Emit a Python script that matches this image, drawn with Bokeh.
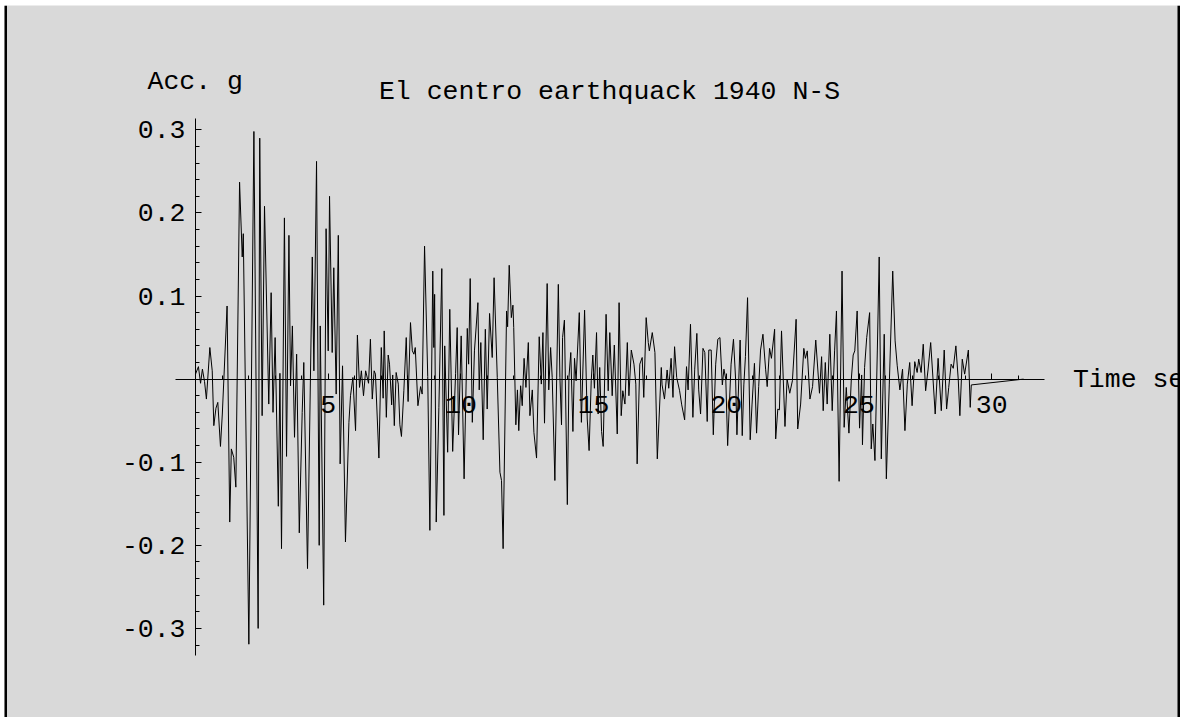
from bokeh.plotting import figure
from bokeh.models import LinearAxis, FixedTicker, PrintfTickFormatter, Range1d, Label, Span
from bokeh.embed import file_html
from bokeh.resources import INLINE

# El Centro 1940 N-S record
time_s = [
    0.00, 0.11, 0.19, 0.26, 0.34, 0.41, 0.54, 0.63, 0.69, 0.77, 0.84, 0.94, 1.01, 1.19, 1.29, 1.35,
    1.44, 1.52, 1.66, 1.76, 1.80, 2.01, 2.20, 2.36, 2.42, 2.51, 2.60, 2.76, 2.85, 2.92, 3.00, 3.12,
    3.18, 3.24, 3.35, 3.43, 3.52, 3.58, 3.65, 3.73, 3.81, 3.91, 4.02, 4.08, 4.22, 4.40, 4.46, 4.56,
    4.66, 4.70, 4.83, 4.92, 5.00, 5.05, 5.15, 5.21, 5.30, 5.38, 5.45, 5.54, 5.65, 5.78, 5.84, 5.93,
    6.03, 6.10, 6.18, 6.25, 6.33, 6.41, 6.52, 6.59, 6.66, 6.73, 6.78, 6.91,
    7.00, 7.07, 7.11, 7.19, 7.26, 7.31, 7.39, 7.43, 7.49, 7.56, 7.64, 7.70, 7.76, 7.85, 7.94, 8.01,
    8.10, 8.17, 8.23, 8.28, 8.38, 8.48, 8.54, 8.63, 8.75, 8.83, 8.94, 8.98, 9.01, 9.07, 9.17, 9.28,
    9.36, 9.39, 9.50, 9.58, 9.69, 9.80, 9.86, 9.91, 10.01, 10.12, 10.24, 10.29, 10.35, 10.43, 10.51,
    10.64, 10.69, 10.75, 10.84, 10.92, 10.99, 11.08, 11.18, 11.25, 11.37, 11.47, 11.53, 11.59, 11.72,
    11.76, 11.82, 11.90, 11.96, 11.99, 12.07, 12.13, 12.18, 12.25, 12.31, 12.38, 12.45, 12.54, 12.60,
    12.69, 12.75, 12.85, 12.95, 13.03, 13.09, 13.15, 13.25, 13.31, 13.38, 13.44, 13.54, 13.67, 13.73,
    13.79, 13.83, 13.90, 14.01, 14.07, 14.14, 14.22, 14.28, 14.34, 14.46, 14.54, 14.66, 14.76, 14.83,
    14.91, 14.97, 15.03, 15.11, 15.17, 15.23, 15.30, 15.36, 15.47, 15.55, 15.61, 15.70, 15.78, 15.89,
    15.96, 16.04, 16.10, 16.18, 16.27, 16.33, 16.42, 16.52, 16.59, 16.64, 16.74, 16.83, 16.89, 16.98,
    17.06, 17.10, 17.21, 17.31, 17.40, 17.55,
    17.58, 17.67, 17.77, 17.83, 17.92, 17.99, 18.05, 18.13, 18.24, 18.32, 18.43, 18.50, 18.56, 18.65,
    18.74, 18.81, 18.89, 18.96, 19.03, 19.12, 19.19, 19.28, 19.34, 19.43, 19.51, 19.60, 19.68, 19.76,
    19.85, 19.91, 19.98, 20.05, 20.18, 20.27, 20.35, 20.40, 20.52, 20.60, 20.66, 20.72, 20.80, 20.90,
    20.97, 21.06, 21.14, 21.22, 21.29, 21.38, 21.48, 21.54, 21.63, 21.70, 21.82, 21.86, 21.94, 22.00,
    22.08, 22.21, 22.29, 22.39, 22.49, 22.63, 22.69, 22.80, 22.92, 22.98, 23.05, 23.15, 23.25, 23.37,
    23.51, 23.59, 23.65, 23.73, 23.80, 23.90, 23.99, 24.08, 24.15, 24.25, 24.36, 24.44, 24.52, 24.62,
    24.71, 24.78, 24.84, 24.93, 25.02, 25.10, 25.13, 25.21, 25.29, 25.40, 25.46, 25.52, 25.60, 25.69,
    25.76, 25.84, 25.95, 26.03, 26.14, 26.27, 26.36, 26.44, 26.54, 26.64, 26.73, 26.82, 26.91, 27.00,
    27.10, 27.19, 27.25, 27.34, 27.42, 27.51, 27.60, 27.70, 27.79, 27.87, 27.98, 28.10, 28.21, 28.30,
    28.38, 28.47, 28.55, 28.65, 28.74, 28.80, 28.89, 28.98, 29.12, 29.19, 29.23, 31.20,
]
accel_g = [
    0.006, 0.015, -0.005, 0.012, -0.003, -0.024, 0.038, 0.010, -0.056, -0.035, -0.028, -0.081, -0.042, 0.088, -0.172, -0.084,
    -0.094, -0.130, 0.237, 0.147, 0.175, -0.319, 0.298, -0.300, 0.290, -0.044, 0.208, -0.030, 0.104, -0.040, 0.050, -0.153,
    0.007, -0.204, 0.194, -0.093, 0.173, -0.008, 0.064, -0.070, 0.030, -0.185, -0.040, 0.020, -0.228, 0.147, 0.010, 0.262,
    -0.200, 0.064, -0.272, 0.181, 0.034, 0.220, 0.032, 0.134, -0.018, 0.173, -0.102, 0.016, -0.196, -0.052, -0.020, 0.002,
    -0.062, 0.053, -0.010, 0.010, -0.020, 0.010, -0.005, 0.048, -0.024, 0.010, 0.006, -0.095,
    0.038, -0.023, 0.058, -0.046, 0.029, 0.018, -0.031, 0.005, -0.056, 0.008, -0.006, -0.055, -0.069, -0.014, 0.050, -0.027,
    0.068, 0.034, 0.030, 0.038, -0.032, -0.009, -0.018, 0.160, 0.003, -0.182, 0.130, 0.038, 0.102, -0.172, -0.034, 0.133,
    -0.164, 0.040, -0.088, 0.084, -0.087, 0.007, 0.062, -0.067, 0.052, -0.120, 0.061, 0.018, 0.121, -0.052, 0.034,
    0.092, -0.013, 0.044, -0.073, 0.060, -0.036, 0.079, 0.026, 0.122, 0.002, -0.112, -0.122, -0.204, 0.082,
    0.063, 0.137, 0.074, 0.089, 0.062, -0.055, -0.013, -0.062, -0.008, -0.032, 0.025, -0.010, 0.044, -0.044,
    -0.013, -0.064, -0.095, 0.051, -0.006, 0.056, -0.053, 0.115, -0.013, 0.038, 0.002, -0.122, 0.114, 0.002,
    -0.055, 0.050, 0.071, -0.151, 0.002, 0.032, -0.063, 0.025, -0.002, 0.080, -0.052, 0.083, -0.048, -0.086,
    -0.002, 0.029, -0.011, 0.056, -0.042, 0.014, -0.063, -0.081, 0.078, -0.014, 0.056, -0.020, 0.041, -0.066,
    0.092, -0.044, -0.014, -0.030, 0.044, -0.020, 0.035, 0.018, -0.006, -0.102, 0.018, 0.026, -0.022, 0.074,
    0.044, 0.034, 0.056, 0.032, -0.096, 0.014,
    -0.007, -0.024, 0.011, -0.011, 0.025, -0.022, 0.039, 0.002, -0.014, -0.031, -0.049, 0.015, -0.013, 0.066,
    -0.046, 0.012, 0.055, -0.013, -0.042, 0.037, 0.032, -0.051, 0.035, 0.035, -0.067, 0.018, 0.048, 0.050,
    -0.007, 0.012, 0.000, -0.080, 0.018, 0.048, 0.000, -0.067, 0.047, -0.068, -0.007, 0.027, 0.098, -0.073,
    -0.030, 0.019, -0.065, -0.009, 0.035, 0.054, 0.012, -0.009, 0.037, 0.025, 0.060, -0.072, -0.036, -0.037,
    0.058, -0.057, 0.000, -0.017, -0.002, 0.072, -0.060, -0.030, 0.037, 0.025, 0.034, -0.024, -0.009, 0.047,
    -0.017, 0.027, -0.038, 0.020, -0.030, 0.054, -0.038, 0.034, 0.082, -0.123, 0.130, -0.058, -0.010, -0.065,
    0.000, 0.029, 0.034, 0.082, -0.059, 0.005, -0.079, 0.014, 0.050, 0.080, -0.084, -0.054, -0.098, 0.035,
    0.147, -0.096, 0.054, -0.120, -0.007, 0.130, 0.046, 0.016, -0.013, 0.012, -0.062, -0.006, 0.020, -0.032,
    0.021, 0.008, 0.024, 0.008, 0.042, -0.014, 0.011, 0.044, -0.001, -0.042, 0.025, -0.038, 0.035, -0.036,
    -0.010, 0.018, 0.013, 0.040, -0.001, -0.044, 0.024, 0.006, 0.035, -0.034, -0.007, 0.000,
]

x_major_ticks = [5, 10, 15, 20, 25, 30]
x_minor_ticks = [i for i in range(1, 32) if i % 5 != 0]
y_major_ticks = [-0.3, -0.2, -0.1, 0.1, 0.2, 0.3]
y_minor_ticks = [round(-0.32 + 0.02 * i, 2) for i in range(32)]

title_text = "El centro earthquack 1940 N-S"
y_label_text = "Acc. g"
x_label_text = "Time sec"

FONT = "Liberation Mono"
FSIZE = "26.5px"
BG = "#d9d9d9"

p = figure(width=1180, height=717, output_backend="svg", toolbar_location=None,
           x_range=Range1d(-7.197, 37.113), y_range=Range1d(-0.4072, 0.4496),
           x_axis_type=None, y_axis_type=None, title=None,
           min_border_left=4, min_border_top=5, min_border_right=0, min_border_bottom=0)
p.background_fill_color = BG
p.border_fill_color = "white"
p.outline_line_color = None

xaxis = LinearAxis(fixed_location=0, bounds=(-0.75, 32.0),
                   ticker=FixedTicker(ticks=x_major_ticks, minor_ticks=x_minor_ticks),
                   formatter=PrintfTickFormatter(format="%d"))
yaxis = LinearAxis(fixed_location=0, bounds=(-0.333, 0.314),
                   ticker=FixedTicker(ticks=y_major_ticks, minor_ticks=y_minor_ticks),
                   formatter=PrintfTickFormatter(format="%.1f"))
for ax in (xaxis, yaxis):
    ax.axis_line_color = "black"
    ax.axis_line_width = 1
    ax.major_tick_line_color = "black"
    ax.minor_tick_line_color = "black"
    ax.major_tick_in = 6
    ax.major_tick_out = 0
    ax.minor_tick_in = 4
    ax.minor_tick_out = 0
    ax.major_label_text_font = FONT
    ax.major_label_text_font_size = FSIZE
    ax.major_label_text_color = "black"
xaxis.major_label_standoff = 17
yaxis.major_label_standoff = 10
p.add_layout(xaxis, "below")
p.add_layout(yaxis, "left")

p.line(time_s, accel_g, line_color="black", line_width=1)

p.add_layout(Label(x=15.6, y=0.3457, text=title_text, text_font=FONT, text_font_size=FSIZE,
                   text_align="center", text_baseline="alphabetic", text_color="black"))
p.add_layout(Label(x=-1.81, y=0.3581, text=y_label_text, text_font=FONT, text_font_size=FSIZE,
                   text_align="left", text_baseline="alphabetic", text_color="black"))
p.add_layout(Label(x=33.06, y=-0.0013, text=x_label_text, text_font=FONT, text_font_size=FSIZE,
                   text_align="left", text_baseline="alphabetic", text_color="black"))

p.add_layout(Span(location=1, location_units="screen", dimension="height",
                  line_color="black", line_width=3))
p.add_layout(Span(location=1174.5, location_units="screen", dimension="height",
                  line_color="black", line_width=3))

open("out.html", "w").write(file_html(p, INLINE))
